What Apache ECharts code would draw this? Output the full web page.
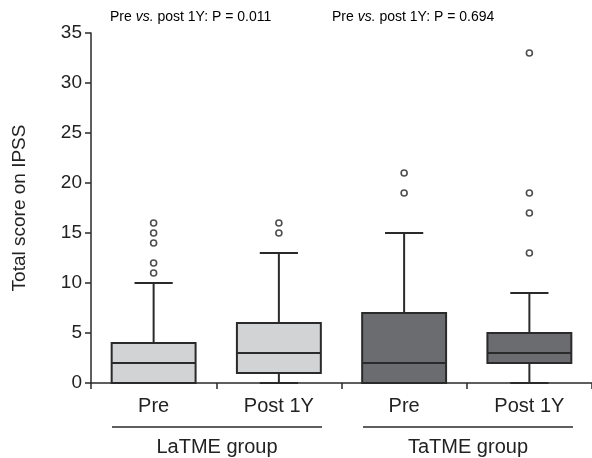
<!DOCTYPE html>
<html>
<head>
<meta charset="utf-8">
<script src="https://cdn.jsdelivr.net/npm/echarts@6/dist/echarts.min.js"></script>
<style>html,body{margin:0;padding:0;background:#fff}#c{width:592px;height:458px}</style>
</head>
<body>
<div id="c"></div>
<script>
const categories = ['Pre', 'Post 1Y', 'Pre', 'Post 1Y'];
const groups = ['LaTME group', 'TaTME group'];
const pValues = ['0.011', '0.694'];
const yTicks = [0, 5, 10, 15, 20, 25, 30, 35];
const mins = [0, 0, 0, 0];
const q1s = [0, 1, 0, 2];
const medians = [2, 3, 2, 3];
const q3s = [4, 6, 7, 5];
const maxs = [10, 13, 15, 9];
const outliers = [[0, 16], [0, 15], [0, 14], [0, 12], [0, 11], [1, 16], [1, 15], [2, 21], [2, 19], [3, 33], [3, 19], [3, 17], [3, 13]];
const fills = ['#d2d3d5', '#d2d3d5', '#6b6c70', '#6b6c70'];

const boxData = categories.map((c, i) => [i, mins[i], q1s[i], medians[i], q3s[i], maxs[i]]);
const stroke = '#2a2a2a';
const richP = {
  n: {fontSize: 14, fontFamily: 'Liberation Sans', color: '#222'},
  i: {fontSize: 14, fontFamily: 'Liberation Sans', fontStyle: 'italic', color: '#222'}
};
const pText = v => '{n|Pre }{i|vs.}{n| post 1Y: P = ' + v + '}';

const chart = echarts.init(document.getElementById('c'), null, {renderer: 'canvas'});
chart.setOption({
  animation: false,
  grid: {left: 91, right: 0, top: 33, bottom: 75},
  xAxis: {
    type: 'category',
    data: categories,
    boundaryGap: true,
    axisLine: {lineStyle: {color: stroke, width: 1.5}},
    axisTick: {show: true, interval: 0, length: 6, lineStyle: {color: stroke, width: 1.5}},
    axisLabel: {interval: 0, color: '#222', fontSize: 20, fontFamily: 'Liberation Sans', margin: 13}
  },
  yAxis: {
    type: 'value',
    min: yTicks[0], max: yTicks[yTicks.length - 1], interval: 5,
    name: 'Total score on IPSS',
    nameLocation: 'middle',
    nameGap: 62,
    nameTextStyle: {color: '#222', fontSize: 19, fontFamily: 'Liberation Sans'},
    splitLine: {show: false},
    axisLine: {show: true, lineStyle: {color: stroke, width: 1.5}},
    axisTick: {show: true, length: 6, lineStyle: {color: stroke, width: 1.5}},
    axisLabel: {color: '#222', fontSize: 19, fontFamily: 'Liberation Sans', margin: 9}
  },
  series: [
    {
      type: 'custom',
      data: boxData,
      encode: {x: 0, y: [1, 2, 3, 4, 5]},
      z: 3,
      renderItem: function (params, api) {
        const x = api.value(0);
        const w = api.size([1, 0])[0];
        const bw = w * 0.67, cw = w * 0.305;
        const p = [1, 2, 3, 4, 5].map(k => api.coord([x, api.value(k)]));
        const cx = p[0][0];
        const ls = {stroke: stroke, lineWidth: 2};
        return {
          type: 'group',
          children: [
            {type: 'line', shape: {x1: cx, y1: p[4][1], x2: cx, y2: p[3][1]}, style: ls},
            {type: 'line', shape: {x1: cx, y1: p[1][1], x2: cx, y2: p[0][1]}, style: ls},
            {type: 'line', shape: {x1: cx - cw / 2, y1: p[4][1], x2: cx + cw / 2, y2: p[4][1]}, style: ls},
            {type: 'line', shape: {x1: cx - cw / 2, y1: p[0][1], x2: cx + cw / 2, y2: p[0][1]}, style: ls},
            {type: 'rect', shape: {x: cx - bw / 2, y: p[3][1], width: bw, height: p[1][1] - p[3][1]},
              style: {fill: fills[x], stroke: stroke, lineWidth: 2}},
            {type: 'line', shape: {x1: cx - bw / 2, y1: p[2][1], x2: cx + bw / 2, y2: p[2][1]}, style: ls}
          ]
        };
      }
    },
    {
      type: 'scatter',
      data: outliers,
      symbol: 'circle',
      symbolSize: 6,
      z: 4,
      itemStyle: {color: '#fff', borderColor: '#222', borderWidth: 1.6}
    }
  ],
  graphic: [
    {type: 'text', left: 110, top: 10, style: {text: pText(pValues[0]), rich: richP}},
    {type: 'text', left: 332, top: 10, style: {text: pText(pValues[1]), rich: richP}},
    {type: 'line', shape: {x1: 112, y1: 427, x2: 322, y2: 427}, style: {stroke: stroke, lineWidth: 1.5}},
    {type: 'line', shape: {x1: 363, y1: 427, x2: 573, y2: 427}, style: {stroke: stroke, lineWidth: 1.5}},
    {type: 'text', x: 217, y: 447, style: {text: groups[0], fill: '#222', font: '20px "Liberation Sans"', textAlign: 'center', textVerticalAlign: 'middle'}},
    {type: 'text', x: 468, y: 447, style: {text: groups[1], fill: '#222', font: '20px "Liberation Sans"', textAlign: 'center', textVerticalAlign: 'middle'}}
  ]
});
</script>
</body>
</html>
